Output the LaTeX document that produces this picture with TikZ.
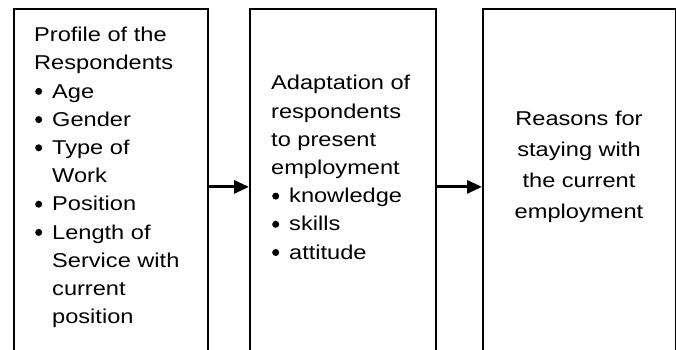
\documentclass[tikz,border=0pt]{standalone}
\usepackage{fontspec}
\setmainfont{Liberation Sans}[FakeStretch=1.18]
\usetikzlibrary{positioning,arrows.meta}

\newcommand{\bul}{\makebox[18pt][l]{\hspace*{1pt}\tikz[baseline=-6.7pt]{\fill (0,0) circle (3.5pt);}}}
\newcommand{\ind}{\hspace*{18pt}}

\tikzset{
    box/.style={draw, line width=1.8pt, minimum height=356pt, inner sep=0pt, anchor=north west},
    arr/.style={-{Triangle[length=15pt,width=13pt]}, line width=3pt},
    txt/.style={align=left, inner sep=0pt, font=\fontsize{20}{28.2}\selectfont},
}

\begin{document}
\begin{tikzpicture}[x=1pt,y=1pt]
        \useasboundingbox (0,0) rectangle (676,350);

        % the three boxes, open at the bottom
        \node[box, minimum width=194pt] (profile) at (13,342) {};
        \node[box, minimum width=186pt] (adapt) at (249,342) {};
        \node[box, minimum width=193pt] (reasons) at (482,342) {};

        \draw[arr] (profile) -- (adapt);
        \draw[arr] (adapt) -- (reasons);

        % text anchored at the baseline of its last line
        \node[txt, anchor=base west] (profiletxt) at (34,26.3) {Profile of the\\Respondents\\\bul Age\\\bul Gender\\\bul Type of\\\ind Work\\\bul Position\\\bul Length of\\\ind Service with\\\ind current\\\ind position};

        \node[txt, anchor=base west] (adapttxt) at (271,90.8) {Adaptation of\\respondents\\to present\\employment\\\bul knowledge\\\bul skills\\\bul attitude};

        \node[txt, align=center, font=\fontsize{20}{31}\selectfont, anchor=base] (reasonstxt) at (579,131.4) {Reasons for\\staying with\\the current\\employment};
\end{tikzpicture}
\end{document}
